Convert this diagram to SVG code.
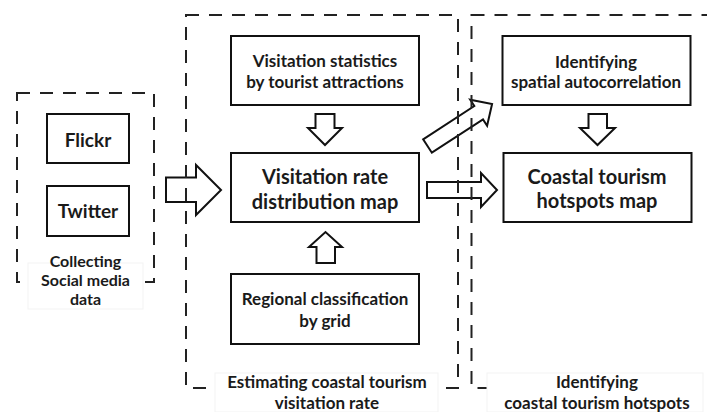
<svg xmlns="http://www.w3.org/2000/svg" width="707" height="412" viewBox="0 0 707 412">
<style>
.box{fill:#fff;stroke:#111;stroke-width:2}
.dash{fill:none;stroke:#222;stroke-width:2;stroke-dasharray:13 10}
.arr{fill:#fff;stroke:#111;stroke-width:2;stroke-linejoin:miter}
.lbg{fill:#fff;stroke:#f3f3f3;stroke-width:1}
text{font-family:Lato,"Open Sans","Liberation Sans",sans-serif;font-weight:bold;fill:#1a1a1a;text-anchor:middle}
.t20{font-size:20px}
.t18{font-size:19px}
.t17{font-size:17px}
.t16{font-size:17px}
.t15{font-size:16px}
</style>
<rect width="707" height="412" fill="#fff"/>
<g id="connectors">
<polygon class="arr" points="166,177.5 196,177.5 196,165 221,190 196,215 196,202 166,202"/>
<polygon class="arr" points="315.5,114 334.5,114 334.5,128 342,128 325,145 308,128 315.5,128"/>
<polygon class="arr" points="316.5,263 335,263 335,247 342,247 325.5,232 309,247 316.5,247"/>
<polygon class="arr" points="427,182 481,182 481,173 497,190 481,207 481,198 427,198"/>
<polygon class="arr" transform="translate(427.5,146) rotate(-33)" points="0,-8 61,-8 61,-15.5 77,0 61,15.5 61,8 0,8"/>
<polygon class="arr" points="588.5,114 607,114 607,128 615,128 597.5,145 580,128 588.5,128"/>
</g>
<g id="container-collecting">
<rect class="dash" x="17" y="93" width="137" height="189"/>
<rect class="lbg" x="28" y="263" width="115" height="46"/>
<text class="t15" x="85.5" y="267">Collecting</text>
<text class="t15" x="85.5" y="286">Social media</text>
<text class="t15" x="85.5" y="305">data</text>
</g>
<g id="container-estimating">
<rect class="dash" x="186" y="15" width="272" height="373"/>
<rect class="lbg" x="215" y="373" width="223" height="39"/>
<text class="t16" x="327" y="388">Estimating coastal tourism</text>
<text class="t16" x="327" y="409">visitation rate</text>
</g>
<g id="container-hotspots">
<rect class="dash" x="471.5" y="15" width="260" height="373"/>
<rect class="lbg" x="487" y="373" width="216" height="39"/>
<text class="t16" x="597" y="388">Identifying</text>
<text class="t16" x="597" y="409">coastal tourism hotspots</text>
</g>
<g id="node-flickr">
<rect class="box" x="47" y="114" width="82" height="49"/>
<text class="t18" x="88" y="147">Flickr</text>
</g>
<g id="node-twitter">
<rect class="box" x="47" y="186" width="82" height="50"/>
<text class="t18" x="88" y="218">Twitter</text>
</g>
<g id="node-visitation-statistics">
<rect class="box" x="231" y="36" width="188" height="69"/>
<text class="t17" x="325" y="67">Visitation statistics</text>
<text class="t17" x="325" y="88">by tourist attractions</text>
</g>
<g id="node-visitation-rate">
<rect class="box" x="231" y="153" width="188" height="69"/>
<text class="t20" x="325" y="184">Visitation rate</text>
<text class="t20" x="325" y="209">distribution map</text>
</g>
<g id="node-regional">
<rect class="box" x="231" y="274" width="188" height="70"/>
<text class="t17" x="325" y="305">Regional classification</text>
<text class="t17" x="325" y="327">by grid</text>
</g>
<g id="node-spatial">
<rect class="box" x="502.5" y="36" width="188" height="69"/>
<text class="t17" x="596" y="68">Identifying</text>
<text class="t17" x="596" y="88">spatial autocorrelation</text>
</g>
<g id="node-hotspots-map">
<rect class="box" x="503.5" y="153" width="188" height="69"/>
<text class="t20" x="597" y="184">Coastal tourism</text>
<text class="t20" x="597" y="208">hotspots map</text>
</g>
</svg>
